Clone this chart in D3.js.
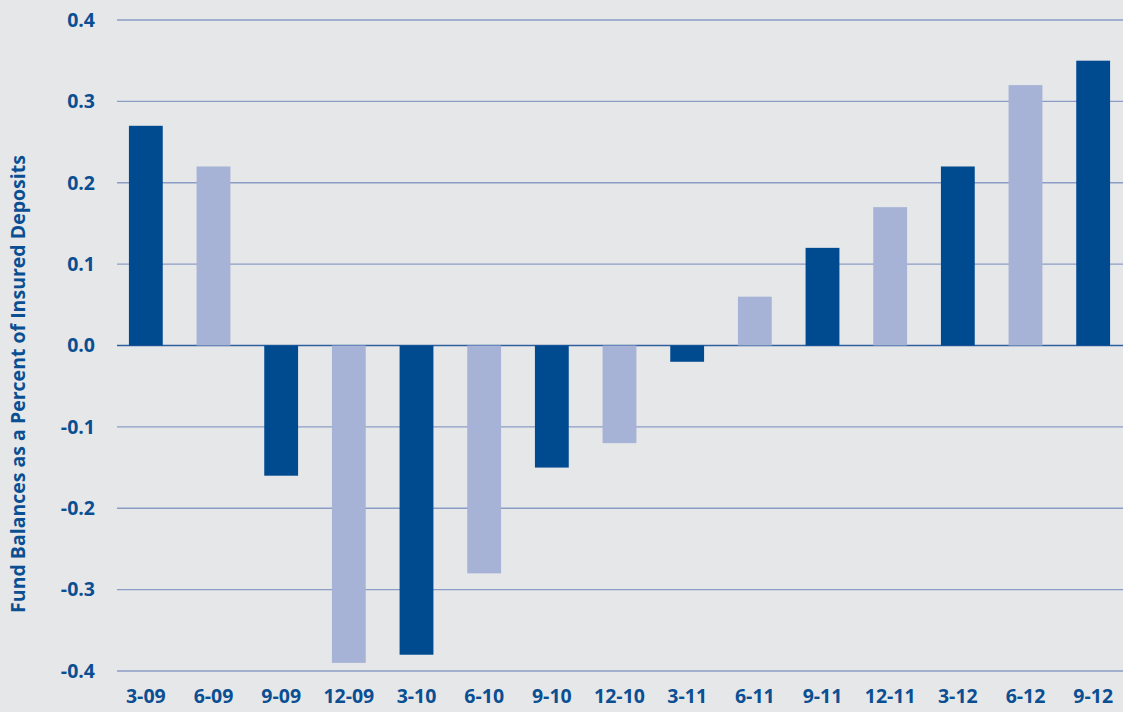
<!DOCTYPE html>
<html>
<head>
<meta charset="utf-8">
<script src="https://cdn.jsdelivr.net/npm/d3@7"></script>
<style>
  body { margin: 0; background: #e6e7e9; }
  svg { display: block; }
  text { font-family: "Open Sans", "Noto Sans", sans-serif; font-weight: bold; fill: #0b4f93; }
</style>
</head>
<body>
<svg width="1123" height="712"></svg>
<script>
const quarters = ['3-09', '6-09', '9-09', '12-09', '3-10', '6-10', '9-10', '12-10',
  '3-11', '6-11', '9-11', '12-11', '3-12', '6-12', '9-12'];
const balances = [0.27, 0.22, -0.16, -0.39, -0.38, -0.28, -0.15, -0.12,
  -0.02, 0.06, 0.12, 0.17, 0.22, 0.32, 0.35];
const yTicks = [-0.4, -0.3, -0.2, -0.1, 0.0, 0.1, 0.2, 0.3, 0.4];

const svg = d3.select('svg');
const width = +svg.attr('width');
const height = +svg.attr('height');

const darkBlue = '#004a8f';
const lightBlue = '#a6b3d6';

// plot area
const x = d3.scaleBand()
  .domain(quarters)
  .range([112, 1127])
  .paddingInner(0.5)
  .paddingOuter(0.25);

const y = d3.scaleLinear()
  .domain([-0.4, 0.4])
  .range([671, 20]);

// gridlines
svg.append('g')
  .selectAll('line')
  .data(yTicks)
  .join('line')
  .attr('x1', 117)
  .attr('x2', width)
  .attr('y1', d => y(d))
  .attr('y2', d => y(d))
  .attr('stroke', d => d === 0 ? '#2f5f9e' : '#8b9dc6')
  .attr('stroke-width', d => d === 0 ? 1.6 : 1.3);

// bars (alternating colours)
svg.append('g')
  .selectAll('rect')
  .data(balances)
  .join('rect')
  .attr('x', (d, i) => x(quarters[i]))
  .attr('width', x.bandwidth())
  .attr('y', d => y(Math.max(0, d)))
  .attr('height', d => Math.abs(y(d) - y(0)))
  .attr('fill', (d, i) => i % 2 === 0 ? darkBlue : lightBlue);

// y axis labels, plain hyphen for negatives like the original
const yAxis = d3.axisLeft(y)
  .tickValues(yTicks)
  .tickFormat(d => d3.format('.1f')(d).replace('\u2212', '-'))
  .tickSize(0)
  .tickPadding(0);

const yg = svg.append('g')
  .attr('transform', 'translate(95,0)')
  .call(yAxis);
yg.select('.domain').remove();
yg.selectAll('text')
  .attr('fill', '#0b4f93')
  .style('font-size', '19.5px');

// x axis labels
const xAxis = d3.axisBottom(x).tickSize(0).tickPadding(0);
const xg = svg.append('g')
  .attr('transform', 'translate(0,689)')
  .call(xAxis);
xg.select('.domain').remove();
xg.selectAll('text')
  .attr('fill', '#0b4f93')
  .style('font-size', '19.5px');

// y axis title
svg.append('text')
  .attr('transform', 'translate(25,384) rotate(-90)')
  .attr('text-anchor', 'middle')
  .style('font-size', '19.5px')
  .text('Fund Balances as a Percent of Insured Deposits');
</script>
</body>
</html>
